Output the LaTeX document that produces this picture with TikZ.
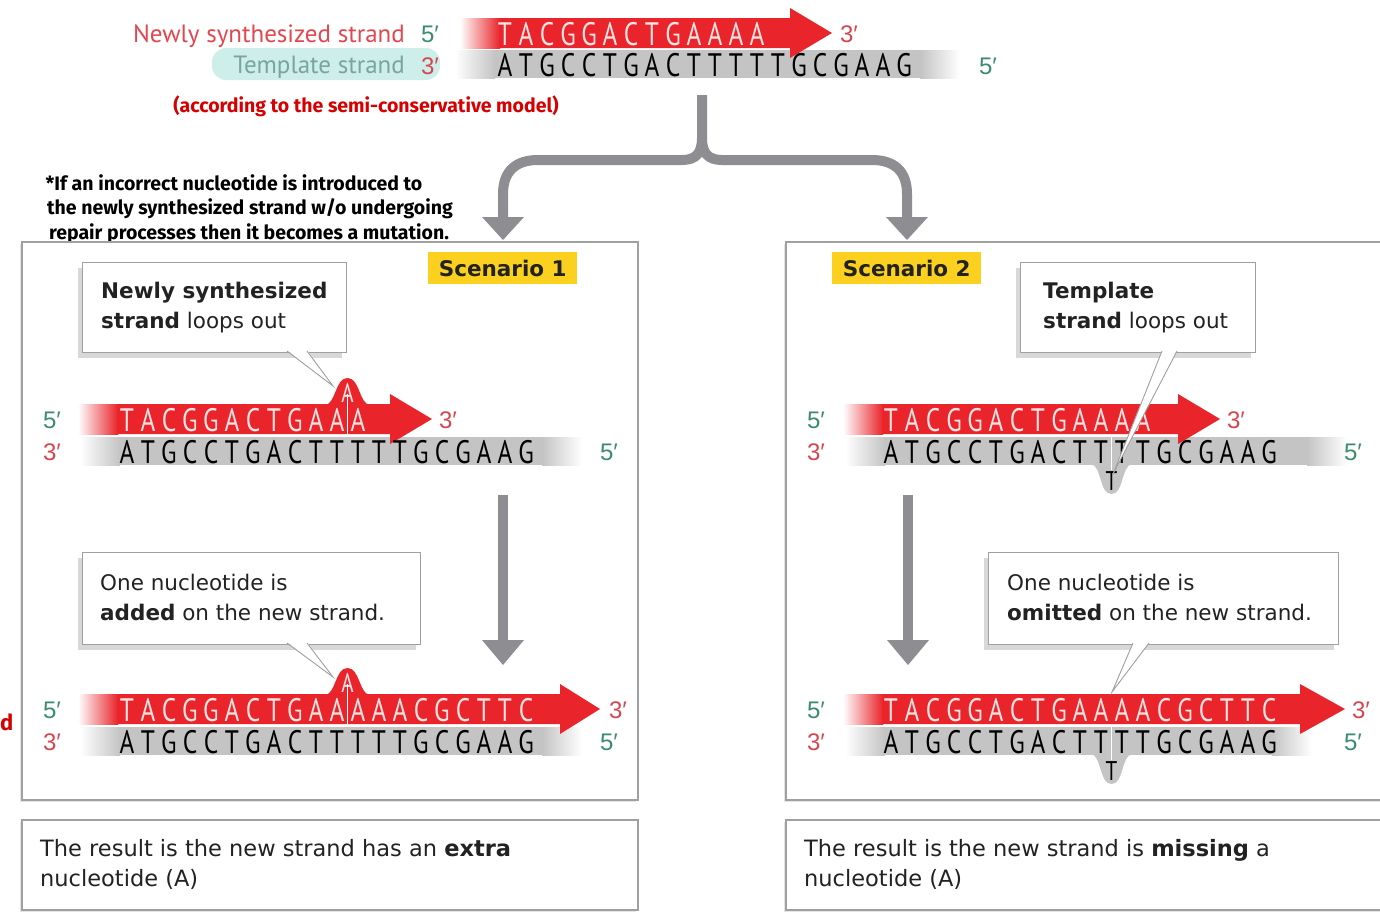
\documentclass[tikz,border=0pt]{standalone}
\usepackage{fontspec}
\setmainfont{DejaVu Sans}
\newfontfamily\strandfont[FakeStretch=0.78]{PT Sans}
\newfontfamily\labelfont{PT Sans}
\newfontfamily\primefont{Liberation Sans}
\newfontfamily\handfont{Fira Sans}
\usetikzlibrary{shadows}
\definecolor{dnared}{RGB}{233,36,42}
\definecolor{letterpink}{RGB}{255,226,226}
\definecolor{bargray}{RGB}{196,196,196}
\definecolor{conngray}{RGB}{142,142,146}
\definecolor{boxgray}{RGB}{160,160,160}
\definecolor{primegreen}{RGB}{58,140,108}
\definecolor{primered}{RGB}{214,70,80}
\definecolor{redlabel}{RGB}{226,70,78}
\definecolor{teallabel}{RGB}{120,165,158}
\definecolor{tealbg}{RGB}{206,238,234}
\definecolor{scyellow}{RGB}{252,208,30}
\definecolor{handred}{RGB}{214,0,0}
\definecolor{txtdark}{RGB}{34,34,34}
\newcommand\graybar[3]{%
  \shade[left color=white,right color=bargray] (#1,{#3-14}) rectangle ({#1+40},{#3+14});
  \fill[bargray] ({#1+39.5},{#3-14}) rectangle ({#2-39.5},{#3+14});
  \shade[left color=bargray,right color=white] ({#2-40},{#3-14}) rectangle (#2,{#3+14});}
\newcommand\redarrow[4]{%
  \shade[left color=white,right color=dnared] (#1,{#4-15}) rectangle ({#1+40},{#4+15});
  \fill[dnared] ({#1+39.5},{#4-15}) -- (#2,{#4-15}) -- (#2,{#4-25}) -- (#3,#4) -- (#2,{#4+25}) -- (#2,{#4+15}) -- ({#1+39.5},{#4+15}) -- cycle;}
\newcommand\putletters[4]{\foreach \c [count=\i from 0] in {#3} {\node[#4] at ({#1+\i*21},#2) {\c};}}
\begin{document}
\begin{tikzpicture}[x=1pt,y=-1pt,
  strandR/.style={font=\strandfont\fontsize{32.5}{32.5}\selectfont, text=letterpink, inner sep=0pt, anchor=base},
  strandK/.style={font=\strandfont\fontsize{32.5}{32.5}\selectfont, text=black, inner sep=0pt, anchor=base},
  bumpR/.style={font=\strandfont\fontsize{27}{27}\selectfont, text=letterpink, inner sep=0pt, anchor=base},
  bumpK/.style={font=\strandfont\fontsize{27}{27}\selectfont, text=black, inner sep=0pt, anchor=base},
  gprime/.style={font=\primefont\fontsize{24}{24}\selectfont, text=primegreen, inner sep=0pt, anchor=base},
  rprime/.style={font=\primefont\fontsize{24}{24}\selectfont, text=primered, inner sep=0pt, anchor=base},
  lbl/.style={font=\labelfont\fontsize{25}{25}\selectfont, inner sep=0pt},
  hand/.style={font=\handfont\bfseries\fontsize{19.5}{19.5}\selectfont, inner sep=0pt},
  panel/.style={draw=boxgray, line width=2pt, fill=white, drop shadow={shadow xshift=-2pt, shadow yshift=-2pt, opacity=0.2, fill=gray}},
  callout/.style={draw=boxgray, line width=1.2pt, fill=white, inner sep=0pt, anchor=north west, drop shadow={shadow xshift=-5pt, shadow yshift=-5pt, opacity=0.3, fill=gray}},
  ctext/.style={font=\fontsize{21.5}{21.5}\selectfont, text=txtdark, inner sep=0pt, anchor=base west},
  rtext/.style={font=\fontsize{22.5}{22.5}\selectfont, text=txtdark, inner sep=0pt, anchor=base west},
  sclabel/.style={fill=scyellow, font=\bfseries\fontsize{21.5}{21.5}\selectfont, text=txtdark, inner sep=0pt, minimum width=149pt, minimum height=32pt, anchor=north west},
  conn/.style={draw=conngray, line width=10pt},
  ptr/.style={draw=boxgray, line width=0.9pt},
  tick/.style={draw=white, line width=1.5pt}]
\useasboundingbox (0,0) rectangle (1380,913);
\fill[white] (0,0) rectangle (1380,913);

% ---------- top strands ----------
\node[lbl, text=redlabel, anchor=base east] (nss) at (405,42) {Newly synthesized strand};
\fill[tealbg, rounded corners=14pt] (212,48) rectangle (440,80);
\node[lbl, text=teallabel, anchor=base east] (ts) at (405,73) {Template strand};
\node[gprime] (t5a) at (430,42) {5′};
\node[rprime] (t3a) at (430,74) {3′};
\graybar{455}{960}{64}
\redarrow{460}{790}{832}{33}
\putletters{505}{45}{T,A,C,G,G,A,C,T,G,A,A,A,A}{strandR}
\putletters{505}{76}{A,T,G,C,C,T,G,A,C,T,T,T,T,T,G,C,G,A,A,G}{strandK}
\node[rprime] (t3b) at (849,42) {3′};
\node[gprime] (t5b) at (988,74) {5′};

\node[hand, text=handred] (note1) at (366,106) {(according to the semi-conservative model)};
\node[hand] (note2) at (234,183) {*If an incorrect nucleotide is introduced to};
\node[hand] (note3) at (250,209) {the newly synthesized strand w/o undergoing};
\node[hand] (note4) at (249,234) {repair processes then it becomes a mutation.};
\node[hand, text=handred, anchor=base west, font=\handfont\bfseries\fontsize{22}{22}\selectfont] (noted) at (0,730) {d};

% ---------- brace connector ----------
\coordinate (br0) at (702,95);
\coordinate (brL) at (503,220);
\coordinate (brR) at (907,220);
\draw[conn] (br0) -- (702,138) .. controls (702,153) and (696,160) .. (682,160) -- (538,160) .. controls (516,160) and (503,171) .. (503,194) -- (brL);
\draw[conn] (702,138) .. controls (702,153) and (708,160) .. (722,160) -- (872,160) .. controls (894,160) and (907,171) .. (907,194) -- (brR);
\fill[conngray] (482,217) -- (524,217) -- (503,240) -- cycle;
\fill[conngray] (886,217) -- (928,217) -- (907,240) -- cycle;

% ---------- panels ----------
\path[panel] (22,242) rectangle (638,800);
\path[panel] (786,242) rectangle (1400,800);
\path[panel] (22,820) rectangle (638,910);
\path[panel] (786,820) rectangle (1400,910);

\node[sclabel] (sc1) at (428,252) {Scenario 1};
\node[sclabel] (sc2) at (832,252) {Scenario 2};

% ---------- Scenario 1 top ----------
\node[gprime] (a5) at (52,428) {5′};
\node[rprime] (a3) at (52,460) {3′};
\graybar{80}{582}{451}
\fill[dnared] (325,405) .. controls (336,404) and (335,378) .. (347.5,378) .. controls (360,378) and (359,404) .. (370,405) -- cycle;
\redarrow{78}{390}{432}{419}
\node[bumpR] (a1bump) at (347.5,402) {A};
\putletters{127}{431}{T,A,C,G,G,A,C,T,G,A,A,A}{strandR}
\putletters{127}{463}{A,T,G,C,C,T,G,A,C,T,T,T,T,T,G,C,G,A,A,G}{strandK}
\draw[tick] (347.5,394) -- (347.5,434);
\node[rprime] (a3b) at (448,428) {3′};
\node[gprime] (a5b) at (609,460) {5′};

% down arrow 1
\coordinate (d1a) at (503,495);
\coordinate (d1b) at (503,642);
\draw[conn] (d1a) -- (d1b);
\fill[conngray] (482,640) -- (524,640) -- (503,665) -- cycle;

% ---------- Scenario 1 bottom ----------
\node[gprime] (b5) at (52,718) {5′};
\node[rprime] (b3) at (52,750) {3′};
\graybar{80}{582}{741}
\fill[dnared] (325,695) .. controls (336,694) and (335,668) .. (347.5,668) .. controls (360,668) and (359,694) .. (370,695) -- cycle;
\redarrow{78}{560}{600}{709}
\node[bumpR] (b1bump) at (347.5,692) {A};
\putletters{127}{721}{T,A,C,G,G,A,C,T,G,A,A,A,A,A,C,G,C,T,T,C}{strandR}
\putletters{127}{753}{A,T,G,C,C,T,G,A,C,T,T,T,T,T,G,C,G,A,A,G}{strandK}
\draw[tick] (347.5,684) -- (347.5,724);
\node[rprime] (b3b) at (618,718) {3′};
\node[gprime] (b5b) at (609,750) {5′};

% ---------- Scenario 2 top ----------
\node[gprime] (c5) at (816,428) {5′};
\node[rprime] (c3) at (816,460) {3′};
\fill[bargray] (1091,464) .. controls (1102,466) and (1099,494) .. (1111.5,494) .. controls (1124,494) and (1121,466) .. (1132,464) -- cycle;
\graybar{845}{1347}{451}
\redarrow{843}{1178}{1220}{419}
\putletters{891}{431}{T,A,C,G,G,A,C,T,G,A,A,A,A}{strandR}
\putletters{891}{463}{A,T,G,C,C,T,G,A,C,T,T,T,T,G,C,G,A,A,G}{strandK}
\draw[tick] (1111.5,437) -- (1111.5,470);
\node[bumpK] (c2bump) at (1111.5,490) {T};
\node[rprime] (c3b) at (1236,428) {3′};
\node[gprime] (c5b) at (1353,460) {5′};

% down arrow 2
\coordinate (d2a) at (908,495);
\coordinate (d2b) at (908,642);
\draw[conn] (d2a) -- (d2b);
\fill[conngray] (887,640) -- (929,640) -- (908,665) -- cycle;

% ---------- Scenario 2 bottom ----------
\node[gprime] (e5) at (816,718) {5′};
\node[rprime] (e3) at (816,750) {3′};
\fill[bargray] (1091,754) .. controls (1102,756) and (1099,784) .. (1111.5,784) .. controls (1124,784) and (1121,756) .. (1132,754) -- cycle;
\graybar{845}{1312}{741}
\redarrow{843}{1300}{1345}{709}
\putletters{891}{721}{T,A,C,G,G,A,C,T,G,A,A,A,A,C,G,C,T,T,C}{strandR}
\putletters{891}{753}{A,T,G,C,C,T,G,A,C,T,T,T,T,G,C,G,A,A,G}{strandK}
\draw[tick] (1111.5,727) -- (1111.5,760);
\node[bumpK] (e2bump) at (1111.5,780) {T};
\node[rprime] (e3b) at (1361,718) {3′};
\node[gprime] (e5b) at (1353,750) {5′};

% ---------- callouts ----------
\node[callout, minimum width=264pt, minimum height=90pt] (co1) at (82,262) {};
\fill[white] (287,350) -- (333,386) -- (307,350) -- cycle;
\draw[ptr] (287,351) -- (333,386) -- (307,351);
\node[ctext] (co1a) at (101,298) {\textbf{Newly synthesized}};
\node[ctext] (co1b) at (101,328) {\textbf{strand} loops out};

\node[callout, minimum width=338pt, minimum height=92pt] (co2) at (82,552) {};
\fill[white] (287,642) -- (333,677) -- (307,642) -- cycle;
\draw[ptr] (287,643) -- (333,677) -- (307,643);
\node[ctext] (co2a) at (100,590) {One nucleotide is};
\node[ctext] (co2b) at (100,620) {\textbf{added} on the new strand.};

\node[callout, minimum width=235pt, minimum height=90pt] (co3) at (1020,262) {};
\fill[white] (1162,350) -- (1113,474) -- (1177,350) -- cycle;
\draw[ptr] (1162,351) -- (1113,474) -- (1177,351);
\node[ctext] (co3a) at (1043,298) {\textbf{Template}};
\node[ctext] (co3b) at (1043,328) {\textbf{strand} loops out};

\node[callout, minimum width=350pt, minimum height=92pt] (co4) at (988,552) {};
\fill[white] (1133,642) -- (1112,692) -- (1149,642) -- cycle;
\draw[ptr] (1133,643) -- (1112,692) -- (1149,643);
\node[ctext] (co4a) at (1007,590) {One nucleotide is};
\node[ctext] (co4b) at (1007,620) {\textbf{omitted} on the new strand.};

% ---------- results ----------
\node[rtext] (r1a) at (40,856) {The result is the new strand has an \textbf{extra}};
\node[rtext] (r1b) at (40,886) {nucleotide (A)};
\node[rtext] (r2a) at (804,856) {The result is the new strand is \textbf{missing} a};
\node[rtext] (r2b) at (804,886) {nucleotide (A)};
\end{tikzpicture}
\end{document}
